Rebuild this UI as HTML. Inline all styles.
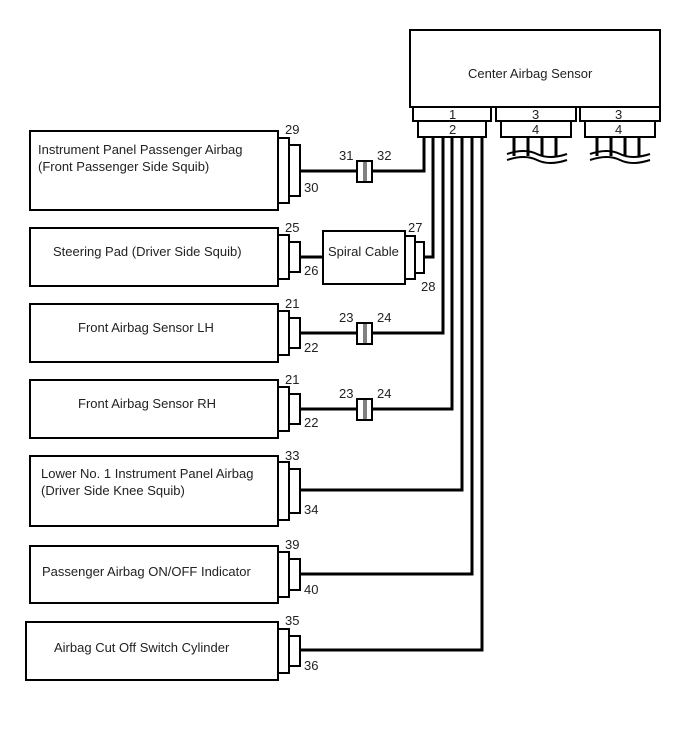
<!DOCTYPE html>
<html><head><style>
html,body{margin:0;padding:0;background:#fff;}
svg{display:block;}
text{font-family:"Liberation Sans",Arial,sans-serif;font-size:13px;fill:#222;}
</style></head><body>
<svg width="688" height="755" viewBox="0 0 688 755" xmlns="http://www.w3.org/2000/svg">
<g fill="#fff" stroke="#000" stroke-width="2">
<rect x="410" y="30" width="250" height="77"/>
<rect x="413" y="107" width="78" height="14"/>
<rect x="418" y="121" width="68" height="16"/>
<rect x="496" y="107" width="80" height="14"/>
<rect x="501" y="121" width="70" height="16"/>
<rect x="580" y="107" width="80" height="14"/>
<rect x="585" y="121" width="70" height="16"/>
</g>
<g stroke="#000" stroke-width="3" fill="none">
<path d="M514 137V156M528 137V156M542 137V156M556 137V156"/>
<path d="M597 137V156M611 137V156M625 137V156M639 137V156"/>
</g>
<g stroke="#000" stroke-width="2" fill="none">
<path d="M507 154q18 -6 30 0t30 0M507 160q18 -6 30 0t30 0"/>
<path d="M590 154q18 -6 30 0t30 0M590 160q18 -6 30 0t30 0"/>
</g>
<g stroke="#000" stroke-width="3" fill="none">
<path d="M424 137V171H300"/>
<path d="M433 137V257H424"/>
<path d="M443 137V333H300"/>
<path d="M452 137V409H300"/>
<path d="M462 137V490H300"/>
<path d="M472 137V574H300"/>
<path d="M482 137V650H300"/>
<path d="M300 257H323"/>
</g>
<g fill="#fff" stroke="#000" stroke-width="2">
<rect x="30" y="131" width="248" height="79"/>
<rect x="278" y="138" width="11" height="65"/><rect x="289" y="145" width="11" height="51"/>
<rect x="30" y="228" width="248" height="58"/>
<rect x="278" y="235" width="11" height="44"/><rect x="289" y="242" width="11" height="30"/>
<rect x="30" y="304" width="248" height="58"/>
<rect x="278" y="311" width="11" height="44"/><rect x="289" y="318" width="11" height="30"/>
<rect x="30" y="380" width="248" height="58"/>
<rect x="278" y="387" width="11" height="44"/><rect x="289" y="394" width="11" height="30"/>
<rect x="30" y="456" width="248" height="70"/>
<rect x="278" y="462" width="11" height="58"/><rect x="289" y="469" width="11" height="44"/>
<rect x="30" y="546" width="248" height="57"/>
<rect x="278" y="552" width="11" height="45"/><rect x="289" y="559" width="11" height="31"/>
<rect x="26" y="622" width="252" height="58"/>
<rect x="278" y="629" width="11" height="44"/><rect x="289" y="636" width="11" height="30"/>
<rect x="323" y="231" width="82" height="53"/>
<rect x="405" y="236" width="10" height="43"/><rect x="415" y="242" width="9" height="31"/>
<rect x="357" y="161" width="15" height="21"/>
<rect x="357" y="323" width="15" height="21"/>
<rect x="357" y="399" width="15" height="21"/>
</g>
<g stroke="#000" stroke-width="1">
<path d="M364 161V182M366 161V182M364 323V344M366 323V344M364 399V420M366 399V420"/>
</g>
<text x="468" y="78">Center Airbag Sensor</text>
<text x="449" y="119">1</text><text x="449" y="134">2</text>
<text x="532" y="119">3</text><text x="532" y="134">4</text>
<text x="615" y="119">3</text><text x="615" y="134">4</text>
<text x="38" y="154">Instrument Panel Passenger Airbag</text>
<text x="38" y="171">(Front Passenger Side Squib)</text>
<text x="53" y="256">Steering Pad (Driver Side Squib)</text>
<text x="78" y="332">Front Airbag Sensor LH</text>
<text x="78" y="408">Front Airbag Sensor RH</text>
<text x="41" y="478">Lower No. 1 Instrument Panel Airbag</text>
<text x="41" y="495">(Driver Side Knee Squib)</text>
<text x="42" y="576">Passenger Airbag ON/OFF Indicator</text>
<text x="54" y="652">Airbag Cut Off Switch Cylinder</text>
<text x="328" y="256">Spiral Cable</text>
<text x="285" y="134">29</text><text x="304" y="192">30</text>
<text x="339" y="160">31</text><text x="377" y="160">32</text>
<text x="285" y="232">25</text><text x="304" y="275">26</text>
<text x="408" y="232">27</text><text x="421" y="291">28</text>
<text x="285" y="308">21</text><text x="304" y="352">22</text>
<text x="339" y="322">23</text><text x="377" y="322">24</text>
<text x="285" y="384">21</text><text x="304" y="427">22</text>
<text x="339" y="398">23</text><text x="377" y="398">24</text>
<text x="285" y="460">33</text><text x="304" y="514">34</text>
<text x="285" y="549">39</text><text x="304" y="594">40</text>
<text x="285" y="625">35</text><text x="304" y="670">36</text>
</svg>
</body></html>
